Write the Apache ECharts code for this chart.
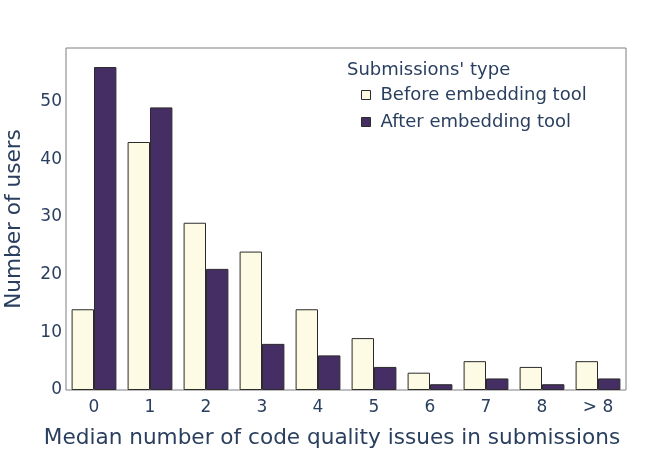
<!DOCTYPE html>
<html lang="en">
  <head>
    <meta charset="UTF-8" />
    <title>Code quality issues</title>
    <script src="https://cdn.jsdelivr.net/npm/echarts@6.0.0/dist/echarts.min.js"></script>
    <style>
      body { margin: 0; background: #fff; }
    </style>
  </head>
  <body>
    <div id="chart" style="width: 664px; height: 457px"></div>
    <script>
      const categories = ["0", "1", "2", "3", "4", "5", "6", "7", "8", "> 8"];
      const before = [14, 43, 29, 24, 14, 9, 3, 5, 4, 5];
      const after = [56, 49, 21, 8, 6, 4, 1, 2, 1, 2];

      const font = "DejaVu Sans, Verdana, sans-serif";
      const textColor = "#2a3f5f";

      const chart = echarts.init(document.getElementById("chart"));
      const option = {
        animation: false,
        textStyle: { fontFamily: font, color: textColor },
        grid: {
          left: 66,
          right: 38,
          top: 48,
          bottom: 67,
          outerBoundsMode: "none",
          containLabel: false,
          show: true,
          borderColor: "#7f7f7f",
          borderWidth: 1,
        },
        legend: {
          orient: "vertical",
          left: 356,
          top: 81,
          icon: "rect",
          itemWidth: 9,
          itemHeight: 9,
          itemGap: 9,
          textStyle: { fontFamily: font, fontSize: 18, color: textColor, padding: [0, 0, 0, 5] },
          data: ["Before embedding tool", "After embedding tool"],
          itemStyle: { borderColor: "#2b2b2b", borderWidth: 1 },
        },
        graphic: [
          {
            type: "text",
            left: 347,
            top: 61,
            style: {
              text: "Submissions' type",
              font: "18px " + font,
              fill: textColor,
            },
          },
        ],
        xAxis: {
          type: "category",
          data: categories,
          name: "Median number of code quality issues in submissions",
          nameLocation: "middle",
          nameGap: 37,
          nameTextStyle: { fontSize: 21.6, color: textColor, padding: [0, 28, 0, 0] },
          axisLine: { show: false },
          axisTick: { show: false },
          axisLabel: { fontSize: 17, color: textColor, margin: 9 },
        },
        yAxis: {
          type: "value",
          min: 0,
          max: 59.3,
          interval: 10,
          name: "Number of users",
          nameLocation: "middle",
          nameGap: 41,
          nameTextStyle: { fontSize: 21.6, color: textColor },
          splitLine: { show: false },
          axisLine: { show: false },
          axisTick: { show: false },
          axisLabel: {
            fontSize: 17,
            color: textColor,
            margin: 4,
            showMaxLabel: false,
          },
        },
        series: [
          {
            name: "Before embedding tool",
            type: "bar",
            data: before,
            barGap: "0%",
            barCategoryGap: "20%",
            itemStyle: { color: "#fdfbe3", borderColor: "#2b2b2b", borderWidth: 1 },
          },
          {
            name: "After embedding tool",
            type: "bar",
            data: after,
            barGap: "0%",
            barCategoryGap: "20%",
            itemStyle: { color: "#452e63", borderColor: "#2b2b2b", borderWidth: 1 },
          },
        ],
      };
      chart.setOption(option);
    </script>
  </body>
</html>
